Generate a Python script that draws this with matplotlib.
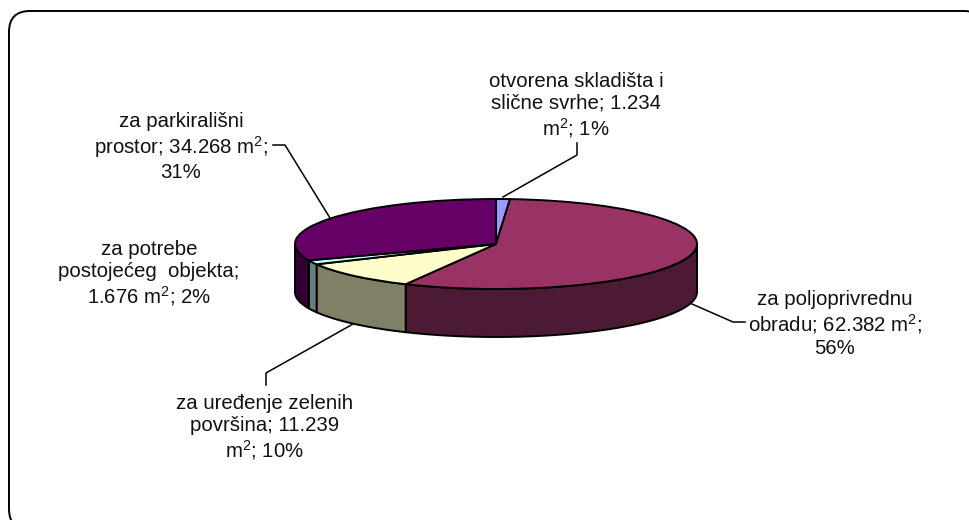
import numpy as np
import matplotlib
matplotlib.use('Agg')
import matplotlib.pyplot as plt
from matplotlib.patches import FancyBboxPatch

plt.rcParams['font.family'] = 'Liberation Sans'
plt.rcParams['mathtext.fontset'] = 'custom'
plt.rcParams['mathtext.rm'] = 'Liberation Sans'
plt.rcParams['mathtext.default'] = 'rm'

# Areas in m2, clockwise from 12 o'clock
categories = ['otvorena skladišta i svrhe', 'za poljoprivrednu obradu', 'za uređenje zelenih površina',
              'za potrebe postojećeg objekta', 'za parkirališni prostor']
values = [1234, 62382, 11239, 1676, 34268]
top_colors = ['#9999FF', '#993366', '#FFFFCC', '#CCFFFF', '#660066']
side_colors = ['#4D4D80', '#4D1A33', '#808066', '#668080', '#330033']

labels = ['otvorena skladišta i\nslične svrhe; 1.234\nm$^{2}$; 1%',
          'za poljoprivrednu\nobradu; 62.382 m$^{2}$;\n56%',
          'za uređenje zelenih\npovršina; 11.239\nm$^{2}$; 10%',
          'za potrebe\npostojećeg  objekta;\n1.676 m$^{2}$; 2%',
          'za parkirališni\nprostor; 34.268 m$^{2}$;\n31%']
label_pos = [(576, 106), (835, 324), (265, 428), (149, 274), (181, 147)]
leaders = [[(503, 197), (577, 155), (577, 143)],
           [(692, 304), (733, 322), (745, 322)],
           [(353, 324), (266, 373), (266, 385)],
           [],
           [(330, 218), (285, 145), (273, 145)]]

W, H = 969, 520
fig = plt.figure(figsize=(W / 100, H / 100), dpi=100)

# Background axes in pixels for the frame, leader lines and labels
ax = fig.add_axes([0, 0, 1, 1])
ax.set_xlim(0, W)
ax.set_ylim(H, 0)
ax.axis('off')

frame = FancyBboxPatch((30, 32), 934, 477, boxstyle='round,pad=21,rounding_size=21',
                       fc='white', ec='black', lw=1.4)
ax.add_patch(frame)

for pts, text, pos in zip(leaders, labels, label_pos):
    if pts:
        xs, ys = zip(*pts)
        ax.plot(xs, ys, color='black', lw=1.1)
    ax.text(pos[0], pos[1], text, ha='center', va='center', fontsize=14.7, color='#111111',
            linespacing=1.2, zorder=5)

# Squashed pie on its own axes
cx, cy, rx, ry = 496, 244, 201, 45
depth = 48 / ry
ax_pie = fig.add_axes([(cx - rx) / W, 1 - (cy + ry) / H, 2 * rx / W, 2 * ry / H])
ax_pie.patch.set_alpha(0)

wedges, _ = ax_pie.pie(values, colors=top_colors, startangle=90, counterclock=False,
                       wedgeprops={'edgecolor': 'black', 'linewidth': 1.4, 'clip_on': False, 'zorder': 3})
ax_pie.set_aspect('auto')
ax_pie.set_xlim(-1, 1)
ax_pie.set_ylim(-1, 1)

# Side wall of each slice, only the part facing the viewer
ends = np.cumsum(values) / np.sum(values) * 360
starts = np.concatenate([[0], ends[:-1]])
for a0, a1, col in zip(starts, ends, side_colors):
    a0, a1 = max(a0, 90), min(a1, 270)
    if a1 <= a0:
        continue
    t = np.radians(np.linspace(a0, a1, 80))
    x = np.sin(t)
    y = np.cos(t)
    ax_pie.fill(np.r_[x, x[::-1]], np.r_[y, y[::-1] - depth], facecolor=col, edgecolor='black',
                linewidth=1.4, clip_on=False, zorder=1)

fig.savefig('out.png', dpi=100)
